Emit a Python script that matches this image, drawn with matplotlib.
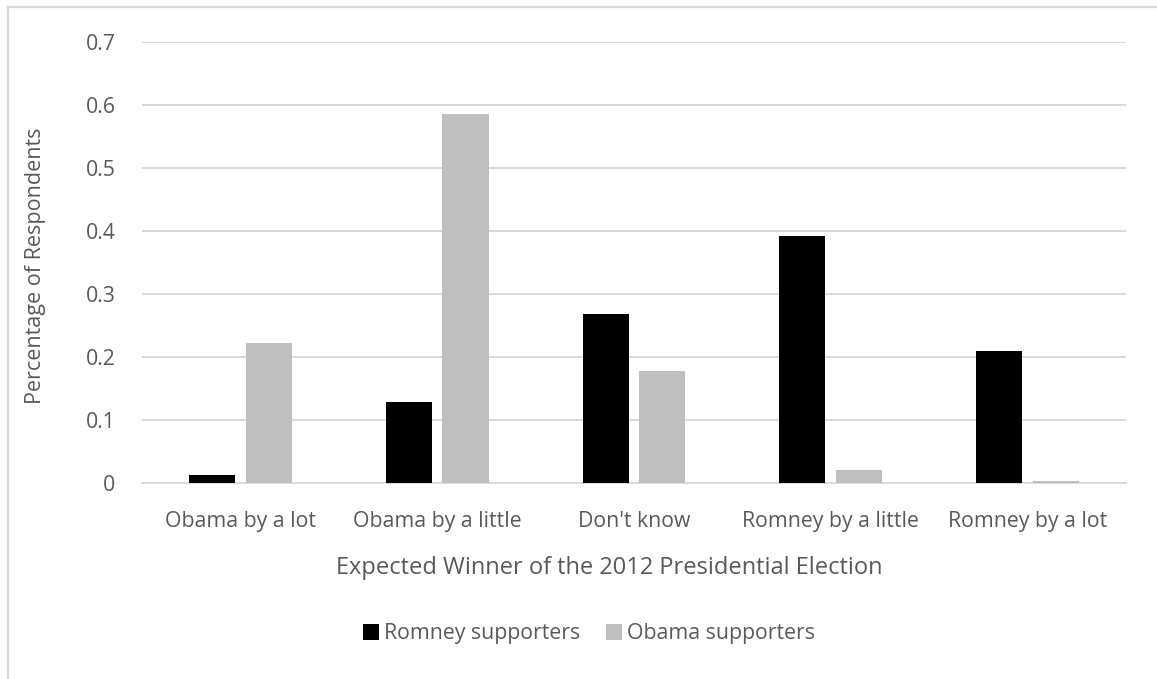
import numpy as np
import matplotlib.pyplot as plt
from matplotlib.lines import Line2D

categories = ['Obama by a lot', 'Obama by a little', "Don't know",
              'Romney by a little', 'Romney by a lot']
romney = [0.012, 0.128, 0.268, 0.392, 0.209]
obama = [0.222, 0.585, 0.177, 0.020, 0.003]
yticks = [0, 0.1, 0.2, 0.3, 0.4, 0.5, 0.6, 0.7]

plt.rcParams['font.family'] = ['Open Sans', 'DejaVu Sans']
text_color = '#595959'
grid_color = '#d9d9d9'

fig = plt.figure(figsize=(11.57, 6.79), dpi=100)
ax = fig.add_axes([0.1227, 0.2887, 0.8505, 0.6494])

x = np.arange(len(categories))
w = 0.234
ax.bar(x - 0.144, romney, w, color='#000000', label='Romney supporters', zorder=3)
ax.bar(x + 0.144, obama, w, color='#bfbfbf', label='Obama supporters', zorder=3)

ax.set_xlim(-0.5, len(categories) - 0.5)
ax.set_ylim(0, 0.7)
ax.set_yticks(yticks)
ax.set_yticklabels(['0' if v == 0 else f'{v:.1f}' for v in yticks])
ax.set_xticks(x)
ax.set_xticklabels(categories)
ax.tick_params(axis='both', length=0, colors=text_color, labelsize=15.3)
ax.tick_params(axis='y', pad=19)
ax.tick_params(axis='x', pad=20)
ax.yaxis.grid(True, color=grid_color, linewidth=1.4, zorder=0)
for s in ['top', 'right', 'left']:
    ax.spines[s].set_visible(False)
ax.spines['bottom'].set_color(grid_color)
ax.spines['bottom'].set_linewidth(1.4)

ax.set_xlabel('Expected Winner of the 2012 Presidential Election',
              fontsize=17, color=text_color)
ax.xaxis.set_label_coords((609.5 - 142) / 984, -(568 - 483) / 441, transform=ax.transAxes)
ax.xaxis.label.set_va('center')
ax.set_ylabel('Percentage of Respondents', fontsize=15.5, color=text_color)
ax.yaxis.set_label_coords(-(142 - 36) / 984, (483 - 266) / 441, transform=ax.transAxes)
ax.yaxis.label.set_va('center')

leg = fig.legend(loc='center', bbox_to_anchor=(589 / 1157, 1 - 634 / 679), ncol=2,
                 frameon=False, fontsize=15.3, handlelength=0.75, handleheight=0.75,
                 handletextpad=0.25, columnspacing=1.2)
for t in leg.get_texts():
    t.set_color(text_color)

# outer chart border (top and left visible)
fig.add_artist(Line2D([8 / 1157, 1], [1 - 7 / 679, 1 - 7 / 679], color=grid_color,
                      linewidth=1.6, transform=fig.transFigure))
fig.add_artist(Line2D([8 / 1157, 8 / 1157], [0, 1 - 7 / 679], color=grid_color,
                      linewidth=1.6, transform=fig.transFigure))

plt.savefig('out.png', dpi=100)
